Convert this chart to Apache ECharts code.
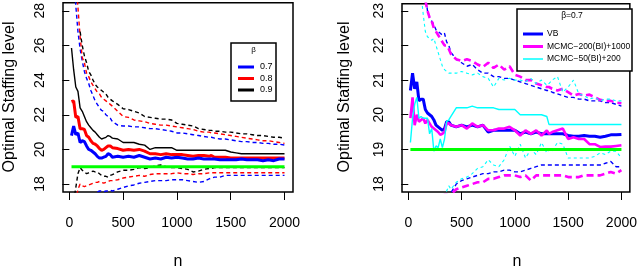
<!DOCTYPE html>
<html><head><meta charset="utf-8">
<script src="https://cdn.jsdelivr.net/npm/echarts@6/dist/echarts.min.js"></script>
<style>html,body{margin:0;padding:0;background:#fff}#c{width:640px;height:268px}</style>
</head><body><div id="c"></div>
<script>
// sample sizes n
const N = [20,40,60,80,100,120,140,160,180,200,220,240,260,280,300,320,340,360,380,400,
  450,500,550,600,650,700,750,800,850,900,950,1000,1050,1100,1150,1200,1250,1300,1320,
  1350,1400,1450,1500,1550,1600,1650,1700,1750,1800,1850,1900,1950,2000];
const xTicks = [0,500,1000,1500,2000];
const yTicksL = [18,20,22,24,26,28];
const yTicksR = [18,19,20,21,22,23];
const trueLevel = 19;

// ---- left panel: beta = 0.7 / 0.8 / 0.9 (mean, upper, lower) ----
const b7mean = [20.8,21.35,20.85,20.95,20.4,20.5,20.45,20.2,20.0,19.95,19.85,19.75,19.6,19.5,19.5,19.55,19.6,19.75,19.7,19.55,
  19.6,19.55,19.6,19.55,19.65,19.55,19.45,19.5,19.45,19.55,19.5,19.55,19.5,19.45,19.45,19.5,19.45,19.45,19.45,
  19.45,19.4,19.4,19.4,19.4,19.45,19.4,19.4,19.4,19.35,19.4,19.35,19.45,19.45];
const b8mean = [22.75,22.8,21.85,21.9,21.2,21.2,21.15,20.8,20.7,20.5,20.35,20.3,20.2,20.05,19.95,20.0,20.1,20.2,20.2,20.1,
  20.05,19.95,20.0,19.95,20.0,19.9,19.75,19.75,19.7,19.75,19.7,19.7,19.7,19.65,19.6,19.65,19.65,19.6,19.65,
  19.55,19.55,19.55,19.5,19.5,19.5,19.5,19.5,19.5,19.5,19.5,19.5,19.5,19.5];
const b9mean = [25.85,24.6,23.6,23.35,22.4,22.2,21.9,21.6,21.4,21.25,21.1,21.0,20.85,20.7,20.6,20.65,20.7,20.8,20.75,20.65,
  20.6,20.4,20.4,20.4,20.3,20.25,20.0,20.1,20.1,20.1,20.1,19.95,19.95,19.95,19.95,19.95,19.95,19.95,19.95,
  19.95,19.95,19.95,19.85,19.8,19.75,19.75,19.75,19.75,19.75,19.75,19.75,19.75,19.75];
const b7up = [null,31,28.3,26.8,25.8,25.1,24.5,24.1,23.8,23.4,23.1,22.8,22.6,22.4,22.25,22.2,22.0,21.9,21.8,21.6,
  21.4,21.35,21.35,21.3,21.3,21.25,21.2,21.2,21.15,21.1,21.05,20.95,20.95,20.9,20.85,20.8,20.75,20.7,20.7,
  20.65,20.6,20.6,20.55,20.5,20.45,20.45,20.4,20.4,20.35,20.35,20.3,20.3,20.25];
const b8up = [null,31,30,28.2,26.5,25.3,25.0,24.4,24.2,23.9,23.7,23.5,23.3,23.2,23.0,22.9,22.8,22.7,22.6,22.5,
  22.2,21.9,21.85,21.7,21.65,21.6,21.5,21.45,21.4,21.4,21.35,21.3,21.25,21.2,21.15,21.05,21.0,21.0,20.95,
  20.95,20.9,20.85,20.8,20.75,20.7,20.65,20.6,20.55,20.5,20.5,20.45,20.4,20.35];
const b9up = [null,null,null,null,26.8,26.0,25.4,25.0,24.5,24.3,24.0,23.75,23.6,23.5,23.4,23.3,23.2,23.0,22.9,22.8,
  22.6,22.35,22.3,22.2,22.1,21.9,21.85,21.8,21.75,21.75,21.7,21.5,21.45,21.4,21.35,21.2,21.15,21.1,21.1,
  21.05,21.05,21.0,21.0,20.95,20.9,20.9,20.85,20.8,20.8,20.75,20.7,20.7,20.65];
const b7low = [null,17.0,17.0,17.1,17.1,17.2,17.2,17.2,17.25,17.25,17.3,17.3,17.55,17.6,17.6,17.55,17.6,17.6,17.65,17.6,
  17.7,17.8,17.9,17.95,18.05,18.1,18.15,18.2,18.2,18.2,18.25,18.25,18.25,18.2,18.15,18.1,18.15,18.3,18.35,
  18.4,18.4,18.5,18.5,18.5,18.5,18.5,18.5,18.5,18.5,18.5,18.5,18.5,18.5];
const b8low = [null,null,17.0,17.7,18.0,17.9,17.85,17.9,17.95,18.0,18.05,18.1,18.1,18.15,18.1,18.05,18.1,18.15,18.2,18.2,
  18.25,18.35,18.4,18.45,18.5,18.45,18.55,18.6,18.6,18.6,18.6,18.65,18.6,18.6,18.55,18.6,18.6,18.65,18.65,
  18.65,18.65,18.65,18.65,18.65,18.65,18.65,18.65,18.65,18.65,18.65,18.65,18.65,18.65];
const b9low = [null,17.0,17.8,18.6,18.95,18.8,18.7,18.6,18.65,18.7,18.75,18.7,18.7,18.6,18.5,18.45,18.45,18.4,18.5,18.55,
  18.7,18.8,18.8,18.85,18.95,18.9,18.95,19.05,19.1,19.0,18.95,18.95,18.9,18.85,18.7,18.75,18.85,18.9,18.9,
  18.95,18.95,18.95,18.95,18.95,18.95,18.95,18.95,18.95,18.95,18.95,18.95,18.95,18.95];

// ---- right panel: beta = 0.7, VB vs MCMC ----
const vbMean = [20.7,21.2,20.75,20.95,20.4,20.45,20.45,20.15,20.05,20.0,19.95,19.85,19.7,19.65,19.6,19.55,19.6,19.8,19.8,19.7,
  19.65,19.7,19.65,19.7,19.65,19.7,19.5,19.55,19.55,19.55,19.55,19.55,19.45,19.5,19.45,19.5,19.45,19.45,19.45,
  19.45,19.45,19.45,19.4,19.38,19.38,19.4,19.38,19.38,19.35,19.38,19.42,19.42,19.43];
const mc200Mean = [19.9,20.5,19.7,20.0,19.8,19.85,19.9,19.75,19.85,19.75,19.65,19.6,19.55,19.5,19.42,19.45,19.5,19.75,19.75,19.7,
  19.65,19.7,19.6,19.75,19.65,19.7,19.55,19.55,19.6,19.6,19.65,19.55,19.4,19.55,19.45,19.55,19.4,19.55,19.45,
  19.5,19.55,19.6,19.3,19.35,19.3,19.3,19.15,19.15,19.07,19.08,19.08,19.1,19.12];
const mc50Mean = [19.2,19.9,20.3,20.5,19.9,19.95,19.9,19.9,19.9,19.45,19.6,18.95,19.1,19.05,19.3,19.05,19.3,19.8,19.85,19.95,
  20.2,20.2,20.2,20.25,20.2,20.2,20.2,20.2,20.15,20.15,20.15,20.15,20.0,20.0,20.0,20.0,20.0,19.95,19.72,
  19.72,19.72,19.72,19.72,19.72,19.72,19.72,19.72,19.72,19.72,19.72,19.72,19.72,19.72];
const vbUp = [null,null,null,null,null,null,null,23.5,23.0,22.8,22.7,22.6,22.45,22.4,22.35,22.3,22.35,22.1,22.0,21.8,
  21.6,21.5,21.4,21.45,21.3,21.2,21.2,21.1,21.1,21.05,21.05,21.0,20.95,20.9,20.85,20.8,20.75,20.7,20.7,
  20.65,20.6,20.55,20.5,20.5,20.45,20.45,20.4,20.4,20.4,20.35,20.35,20.3,20.25];
const mc200Up = [null,null,null,null,null,null,null,23.3,23.0,22.8,22.7,22.5,22.4,22.3,22.2,22.1,22.0,22.0,21.9,21.75,
  21.6,21.55,21.6,21.55,21.45,21.38,21.5,21.35,21.45,21.3,21.4,21.15,21.1,21.0,21.0,20.9,20.85,20.8,20.8,
  20.75,20.7,20.75,20.65,20.55,20.6,20.55,20.58,20.5,20.43,20.4,20.4,20.35,20.33];
const mc50Up = [null,null,null,null,24.0,23.5,22.9,22.4,22.25,22.2,22.15,22.2,22.0,21.8,21.6,21.4,21.3,21.25,21.2,21.2,
  21.2,21.25,21.2,21.15,21.2,21.1,21.05,20.8,21.05,21.0,21.05,21.0,21.0,20.95,21.05,20.9,21.0,20.85,20.9,
  21.0,21.1,20.65,20.8,21.0,20.6,20.55,20.45,20.5,20.4,20.45,20.45,20.4,20.4];
const vbLow = [null,null,null,null,null,null,null,null,null,null,null,null,17.3,17.3,17.3,17.6,17.7,17.65,17.7,17.75,
  18.0,18.1,18.15,18.2,18.25,18.3,18.3,18.35,18.35,18.4,18.4,18.35,18.35,18.4,18.45,18.5,18.55,18.55,18.55,
  18.55,18.55,18.55,18.55,18.55,18.55,18.55,18.55,18.55,18.55,18.6,18.65,18.5,18.5];
const mc200Low = [null,null,null,null,null,null,null,null,null,17.0,17.2,17.5,17.6,17.6,17.55,17.6,17.7,17.7,17.65,17.7,
  17.85,17.9,17.95,18.0,18.05,18.05,18.15,18.15,18.2,18.25,18.25,18.25,18.2,18.25,18.1,18.25,18.25,18.25,18.25,
  18.25,18.25,18.25,18.2,18.2,18.2,18.25,18.25,18.25,18.25,18.3,18.35,18.3,18.4];
const mc50Low = [null,null,null,null,null,null,null,null,null,null,null,null,null,null,17.3,17.4,17.6,17.8,17.95,17.85,
  18.05,18.15,18.2,18.3,18.45,18.5,18.7,18.55,18.5,18.7,19.1,18.8,19.15,18.75,19.0,18.85,19.2,18.9,19.0,
  18.95,19.2,19.15,18.75,18.75,18.75,18.75,18.75,18.8,18.9,18.85,18.95,18.95,18.75];

const FONT = '"Liberation Sans", Arial, sans-serif';
function pts(vals){ const out=[]; N.forEach((n,i)=>{ if(vals[i]!==null) out.push([n, vals[i]]); }); return out; }
function flat(v){ return [[N[0], v],[N[N.length-1], v]]; }

function line(name, gi, vals, color, width, type){
  return {name, type:'line', xAxisIndex:gi, yAxisIndex:gi, data: pts(vals), symbol:'none',
    clip:true, lineStyle:{color, width, type: type||'solid'}, silent:true};
}
const DASH = [4,3];
const series = [
  line('b7up',0,b7up,'#0000ff',1.4,DASH), line('b8up',0,b8up,'#ff0000',1.4,DASH), line('b9up',0,b9up,'#000000',1.4,DASH),
  line('b7low',0,b7low,'#0000ff',1.4,DASH), line('b8low',0,b8low,'#ff0000',1.4,DASH), line('b9low',0,b9low,'#000000',1.4,DASH),
  line('b9mean',0,b9mean,'#000000',1.4), line('b8mean',0,b8mean,'#ff0000',3), line('b7mean',0,b7mean,'#0000ff',3),
  {type:'line', xAxisIndex:0, yAxisIndex:0, data: flat(trueLevel), symbol:'none', lineStyle:{color:'#00ff00', width:3}, silent:true},

  line('vbUp',1,vbUp,'#0000ff',1.4,DASH), line('vbLow',1,vbLow,'#0000ff',1.4,DASH),
  line('mc200Up',1,mc200Up,'#ff00ff',2.6,[7,4]), line('mc200Low',1,mc200Low,'#ff00ff',2.6,[7,4]),
  line('mc50Up',1,mc50Up,'#00ffff',1.1,[3,3]), line('mc50Low',1,mc50Low,'#00ffff',1.1,[3,3]),
  line('vbMean',1,vbMean,'#0000ff',3), line('mc200Mean',1,mc200Mean,'#ff00ff',2.6), line('mc50Mean',1,mc50Mean,'#00ffff',1.4),
  {type:'line', xAxisIndex:1, yAxisIndex:1, data: flat(trueLevel), symbol:'none', lineStyle:{color:'#00ff00', width:3}, silent:true}
];

function xAx(gi){
  return {gridIndex:gi, type:'value', min:-59, max:2079, axisLine:{show:false}, splitLine:{show:false},
    axisTick:{show:true, customValues:xTicks, length:8, lineStyle:{color:'#000', width:1}},
    axisLabel:{customValues:xTicks, margin:24, fontSize:14, color:'#000', fontFamily:FONT, formatter: v => String(v)}};
}
function yAx(gi, min, max, ticks){
  return {gridIndex:gi, type:'value', min, max, axisLine:{show:false}, splitLine:{show:false},
    axisTick:{show:true, customValues:ticks, length:7, lineStyle:{color:'#000', width:1}},
    axisLabel:{customValues:ticks, rotate:90, margin:16, fontSize:14, color:'#000', fontFamily:FONT, formatter: v => String(v)}};
}

function txt(x, y, s, size, align, rot){
  return {type:'text', x, y, rotation: rot||0, z:100,
    style:{text:s, fill:'#000', font: size+'px '+FONT, textAlign: align||'center', textVerticalAlign:'middle', verticalAlign:'middle'}};
}
function seg(x1,x2,y,color,w){
  return {type:'line', z:100, shape:{x1, y1:y, x2, y2:y}, style:{stroke:color, lineWidth:w}};
}

const graphic = [
  txt(10, 97, 'Optimal Staffing level', 16, 'center', Math.PI/2),
  txt(345, 97, 'Optimal Staffing level', 16, 'center', Math.PI/2),
  txt(178, 262, 'n', 16), txt(517, 262, 'n', 16),
  {type:'rect', z:99, shape:{x:231, y:43, width:45, height:58}, style:{fill:'#fff', stroke:'#000', lineWidth:1.5}},
  txt(253.5, 50, 'β', 8),
  seg(238,254,67,'#0000ff',3), txt(260,67,'0.7',9,'left'),
  seg(238,254,78.5,'#ff0000',3), txt(260,78.5,'0.8',9,'left'),
  seg(238,254,90,'#000000',3), txt(260,90,'0.9',9,'left'),
  {type:'rect', z:99, shape:{x:517, y:9, width:115, height:62}, style:{fill:'#fff', stroke:'#000', lineWidth:1.5}},
  txt(572, 16, 'β=0.7', 8.5),
  seg(523,543,34,'#0000ff',3), txt(547,34,'VB',8.5,'left'),
  seg(523,543,46.5,'#ff00ff',3), txt(547,46.5,'MCMC−200(BI)+1000',8.5,'left'),
  seg(523,543,59,'#00ffff',1.5), txt(547,59,'MCMC−50(BI)+200',8.5,'left')
];

const chart = echarts.init(document.getElementById('c'), null, {renderer:'canvas'});
chart.setOption({
  animation:false,
  backgroundColor:'#fff',
  grid:[
    {left:63, top:1, width:230, height:191, show:true, borderColor:'#000', borderWidth:1.5, backgroundColor:'transparent', containLabel:false},
    {left:402, top:1, width:230, height:191, show:true, borderColor:'#000', borderWidth:1.5, backgroundColor:'transparent', containLabel:false}
  ],
  xAxis:[xAx(0), xAx(1)],
  yAxis:[yAx(0,17.543,28.457,yTicksL), yAx(1,17.77,23.2,yTicksR)],
  series,
  graphic
});
</script>
</body></html>
